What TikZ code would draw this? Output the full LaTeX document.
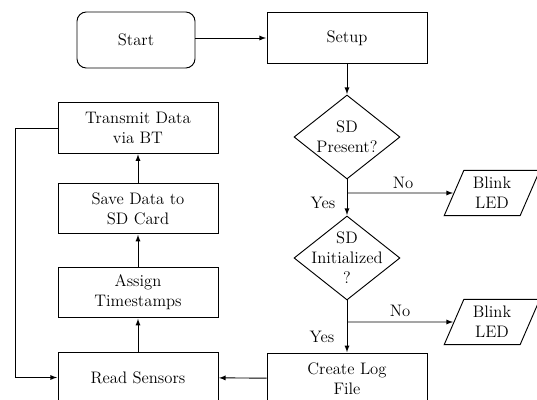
\documentclass[tikz,border=0pt]{standalone}
\usepackage{tikz}
\usetikzlibrary{calc,positioning,arrows,shapes.geometric}

\begin{document}
\begin{tikzpicture}[x=0.75pt, y=-0.75pt, line width=0.7pt, font=\fontsize{12.5}{15}\selectfont,
  box/.style={draw,rectangle,minimum width=120pt,minimum height=38pt,align=center,inner sep=2pt},
  startbox/.style={draw,rectangle,rounded corners=7pt,minimum width=88.5pt,minimum height=42pt},
  decision/.style={draw,diamond,minimum width=79.5pt,minimum height=63pt,inner sep=0pt},
  ledbox/.style={draw,trapezium,trapezium left angle=67,trapezium right angle=113,trapezium stretches=true,minimum width=72pt,minimum height=34pt,align=center,inner sep=0pt},
  arr/.style={-latex,shorten >=0.4pt}]
              \useasboundingbox (0,0) rectangle (537,400);
              \clip (0,0) rectangle (537,400);

              \node[startbox] (start) at (136,40) {Start};
              \node[box] (setup) at (347,38) {Setup};
              \node[decision,label={[align=center]center:SD\\Present?}] (sdp) at (347,137) {};
              \node[decision,label={[align=center]center:SD\\Initialized\\?}] (sdi) at (347,258) {};
              \node[ledbox] (led1) at (492,193) {Blink\\LED};
              \node[ledbox] (led2) at (492,322) {Blink\\LED};
              \node[box] (log) at (347,378.5) {Create Log\\File};
              \node[box] (read) at (138,377.5) {Read Sensors};
              \node[box] (stamp) at (138,292.5) {Assign\\Timestamps};
              \node[box] (save) at (138,208.5) {Save Data to\\SD Card};
              \node[box] (send) at (138,128) {Transmit Data\\via BT};

              \coordinate (b1) at (347,193);
              \coordinate (b2) at (347,322);
              \coordinate (loop) at (15,128);

              \node (no1) at (403,183) {No};
              \node (yes1) at (323,203) {Yes};
              \node (no2) at (400,311) {No};
              \node (yes2) at (322,337) {Yes};

              \draw[arr] (start.east |- setup.west) -- (setup.west);
              \draw[arr] (setup) -- (sdp);
              \draw[arr] (sdp) -- (sdi);
              \draw[arr] (b1) -- (led1.west);
              \draw[arr] (sdi) -- (log);
              \draw[arr] (b2) -- (led2.west);
              \draw[arr] (log) -- (read);
              \draw[arr] (read) -- (stamp);
              \draw[arr] (stamp) -- (save);
              \draw[arr] (save) -- (send);
              \draw[arr] (send.west) -- (loop) |- (read.west);
            \end{tikzpicture}
\end{document}
